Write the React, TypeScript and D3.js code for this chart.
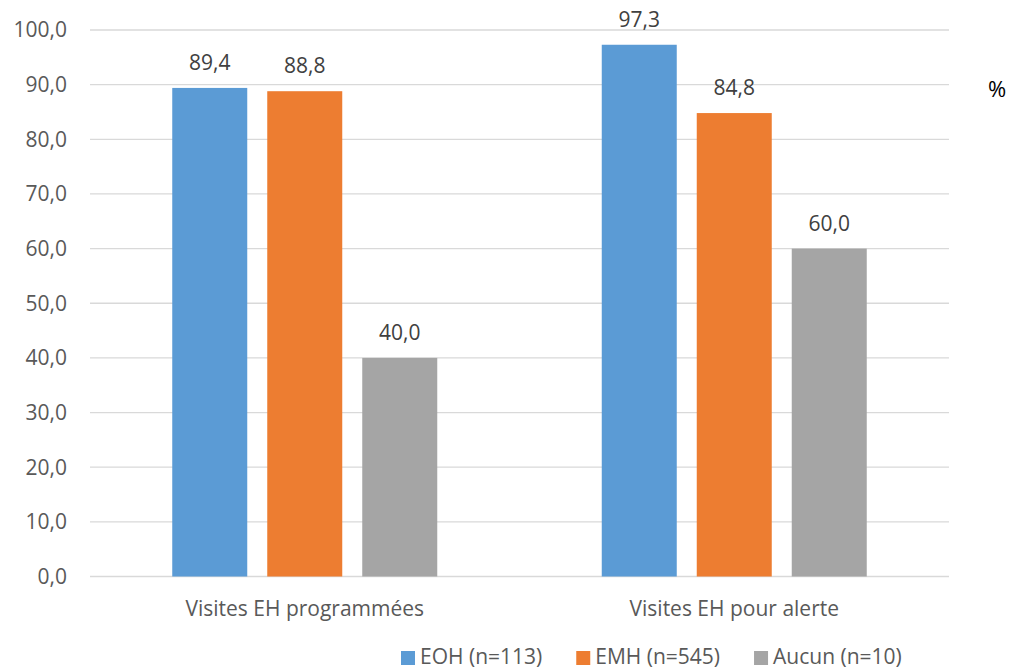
import React, { useRef, useEffect } from 'react';
import * as d3 from 'd3';

// Data
const categories = ['Visites EH programmées', 'Visites EH pour alerte'];
const seriesNames = ['EOH (n=113)', 'EMH (n=545)', 'Aucun (n=10)'];
const seriesColors = ['#5B9BD5', '#ED7D31', '#A5A5A5'];
const eohValues = [89.4, 97.3];
const emhValues = [88.8, 84.8];
const aucunValues = [40.0, 60.0];
const yTicks = [0, 10, 20, 30, 40, 50, 60, 70, 80, 90, 100];

const WIDTH = 1013;
const HEIGHT = 669;
const FONT = "'Open Sans', 'Noto Sans', sans-serif";
const FS = 21;

const fmt = (v: number) => d3.format('.1f')(v).replace('.', ',');

const App: React.FC = () => {
  const svgRef = useRef<SVGSVGElement>(null);

  useEffect(() => {
    if (!svgRef.current) return;
    const svg = d3.select(svgRef.current);
    svg.selectAll('*').remove();

    const margin = { top: 30, right: 64, bottom: 92.5, left: 90 };
    const innerW = WIDTH - margin.left - margin.right;
    const innerH = HEIGHT - margin.top - margin.bottom;

    const series = [eohValues, emhValues, aucunValues];

    const x0 = d3.scaleBand<string>()
      .domain(categories)
      .range([0, innerW])
      .padding(0);

    // bars 75px wide, 20px apart inside each category
    const x1 = d3.scaleBand<number>()
      .domain(d3.range(seriesNames.length))
      .range([-132.5, 132.5])
      .paddingInner(20 / 95)
      .paddingOuter(0);

    const y = d3.scaleLinear()
      .domain([0, 100])
      .range([innerH, 0]);

    const g = svg.append('g')
      .attr('transform', `translate(${margin.left},${margin.top})`);

    // gridlines
    g.append('g')
      .selectAll('line')
      .data(yTicks)
      .join('line')
      .attr('x1', 0)
      .attr('x2', innerW)
      .attr('y1', d => y(d))
      .attr('y2', d => y(d))
      .attr('stroke', '#D9D9D9')
      .attr('stroke-width', 1.3);

    // y tick labels
    g.append('g')
      .selectAll('text')
      .data(yTicks)
      .join('text')
      .attr('x', -23)
      .attr('y', d => y(d))
      .attr('dy', '0.35em')
      .attr('text-anchor', 'end')
      .attr('font-family', FONT)
      .attr('font-size', FS)
      .attr('fill', '#595959')
      .text(d => fmt(d));

    // bars + value labels
    series.forEach((vals, si) => {
      const sg = g.append('g');
      sg.selectAll('rect')
        .data(vals)
        .join('rect')
        .attr('x', (_, i) => (x0(categories[i]) as number) + x0.bandwidth() / 2 + (x1(si) as number))
        .attr('y', d => y(d))
        .attr('width', x1.bandwidth())
        .attr('height', d => innerH - y(d))
        .attr('fill', seriesColors[si]);

      sg.selectAll('text')
        .data(vals)
        .join('text')
        .attr('x', (_, i) => (x0(categories[i]) as number) + x0.bandwidth() / 2 + (x1(si) as number) + x1.bandwidth() / 2)
        .attr('y', d => y(d) - 18)
        .attr('text-anchor', 'middle')
        .attr('font-family', FONT)
        .attr('font-size', FS)
        .attr('fill', '#404040')
        .text(d => fmt(d));
    });

    // category labels
    g.append('g')
      .selectAll('text')
      .data(categories)
      .join('text')
      .attr('x', d => (x0(d) as number) + x0.bandwidth() / 2)
      .attr('y', innerH + 39)
      .attr('text-anchor', 'middle')
      .attr('font-family', FONT)
      .attr('font-size', FS)
      .attr('fill', '#595959')
      .text(d => d);

    // % unit label
    svg.append('text')
      .attr('x', 997)
      .attr('y', 89)
      .attr('dy', '0.35em')
      .attr('text-anchor', 'middle')
      .attr('font-family', FONT)
      .attr('font-size', 22)
      .attr('fill', '#000000')
      .text('%');

    // legend
    const legend = svg.append('g');
    let cursor = 401;
    seriesNames.forEach((name, i) => {
      legend.append('rect')
        .attr('x', cursor)
        .attr('y', 651)
        .attr('width', 14)
        .attr('height', 14)
        .attr('fill', seriesColors[i]);
      const t = legend.append('text')
        .attr('x', cursor + 19)
        .attr('y', 664)
        .attr('font-family', FONT)
        .attr('font-size', FS)
        .attr('fill', '#595959')
        .text(name);
      const w = (t.node() as SVGTextElement).getComputedTextLength();
      cursor += 19 + w + 34;
    });
  }, []);

  return (
    <svg
      ref={svgRef}
      width={WIDTH}
      height={HEIGHT}
      style={{ position: 'absolute', left: 0, top: 0, background: '#fff' }}
    />
  );
};

export default App;
